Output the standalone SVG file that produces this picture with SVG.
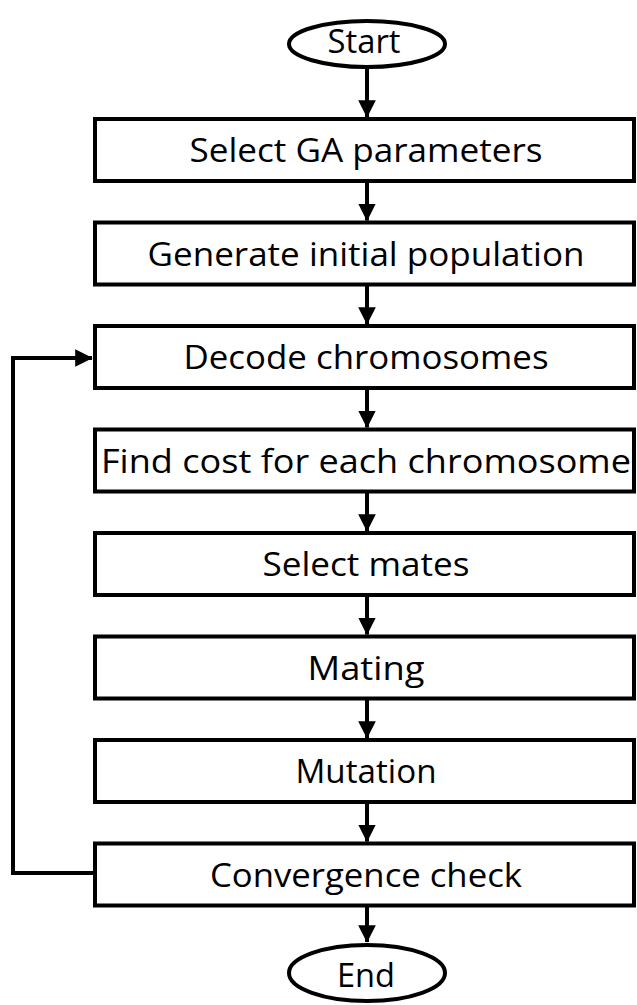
<svg xmlns="http://www.w3.org/2000/svg" width="637" height="1005" viewBox="0 0 637 1005">
<style>
.box{fill:#fff;stroke:#000;stroke-width:4}
.term{fill:#fff;stroke:#000;stroke-width:4}
.lbl{font-family:"Open Sans","Noto Sans",sans-serif;font-size:33px;fill:#000;text-anchor:middle}
.conn{fill:none;stroke:#000;stroke-width:4}
</style>
<defs>
<marker id="ah" markerWidth="5" markerHeight="5" refX="4.2" refY="2.5" orient="auto" markerUnits="strokeWidth"><path d="M0,0.3 L4.4,2.5 L0,4.7 Z" fill="#000"/></marker>
</defs>
<rect width="637" height="1005" fill="#fff"/>
<g id="connectors">
<line class="conn" x1="367" y1="67" x2="367" y2="117" marker-end="url(#ah)"/>
<line class="conn" x1="367" y1="181" x2="367" y2="220.5" marker-end="url(#ah)"/>
<line class="conn" x1="367" y1="284.5" x2="367" y2="324" marker-end="url(#ah)"/>
<line class="conn" x1="367" y1="388" x2="367" y2="427.5" marker-end="url(#ah)"/>
<line class="conn" x1="367" y1="491.5" x2="367" y2="531" marker-end="url(#ah)"/>
<line class="conn" x1="367" y1="595" x2="367" y2="634.5" marker-end="url(#ah)"/>
<line class="conn" x1="367" y1="698.5" x2="367" y2="738" marker-end="url(#ah)"/>
<line class="conn" x1="367" y1="802" x2="367" y2="841.5" marker-end="url(#ah)"/>
<line class="conn" x1="367" y1="905.5" x2="367" y2="942" marker-end="url(#ah)"/>
<polyline class="conn" points="95,873 13,873 13,358 92,358" marker-end="url(#ah)"/>
</g>
<g id="start"><ellipse class="term" cx="367" cy="44" rx="78" ry="23"/><text class="lbl" x="364" y="53" textLength="73" lengthAdjust="spacingAndGlyphs">Start</text></g>
<g id="n1"><rect class="box" x="95" y="119" width="539" height="62"/><text class="lbl" x="366" y="162" textLength="353" lengthAdjust="spacingAndGlyphs">Select GA parameters</text></g>
<g id="n2"><rect class="box" x="95" y="222.5" width="539" height="62"/><text class="lbl" x="366" y="265.5" textLength="437" lengthAdjust="spacingAndGlyphs">Generate initial population</text></g>
<g id="n3"><rect class="box" x="95" y="326" width="539" height="62"/><text class="lbl" x="366" y="369" textLength="365" lengthAdjust="spacingAndGlyphs">Decode chromosomes</text></g>
<g id="n4"><rect class="box" x="95" y="429.5" width="539" height="62"/><text class="lbl" x="366" y="472.5" textLength="530" lengthAdjust="spacingAndGlyphs">Find cost for each chromosome</text></g>
<g id="n5"><rect class="box" x="95" y="533" width="539" height="62"/><text class="lbl" x="366" y="576" textLength="207" lengthAdjust="spacingAndGlyphs">Select mates</text></g>
<g id="n6"><rect class="box" x="95" y="636.5" width="539" height="62"/><text class="lbl" x="366" y="679.5" textLength="117" lengthAdjust="spacingAndGlyphs">Mating</text></g>
<g id="n7"><rect class="box" x="95" y="740" width="539" height="62"/><text class="lbl" x="366" y="783" textLength="141" lengthAdjust="spacingAndGlyphs">Mutation</text></g>
<g id="n8"><rect class="box" x="95" y="843.5" width="539" height="62"/><text class="lbl" x="366" y="886.5" textLength="312" lengthAdjust="spacingAndGlyphs">Convergence check</text></g>
<g id="end"><ellipse class="term" cx="367" cy="973" rx="78" ry="28"/><text class="lbl" x="366" y="987" textLength="58" lengthAdjust="spacingAndGlyphs">End</text></g>
</svg>
